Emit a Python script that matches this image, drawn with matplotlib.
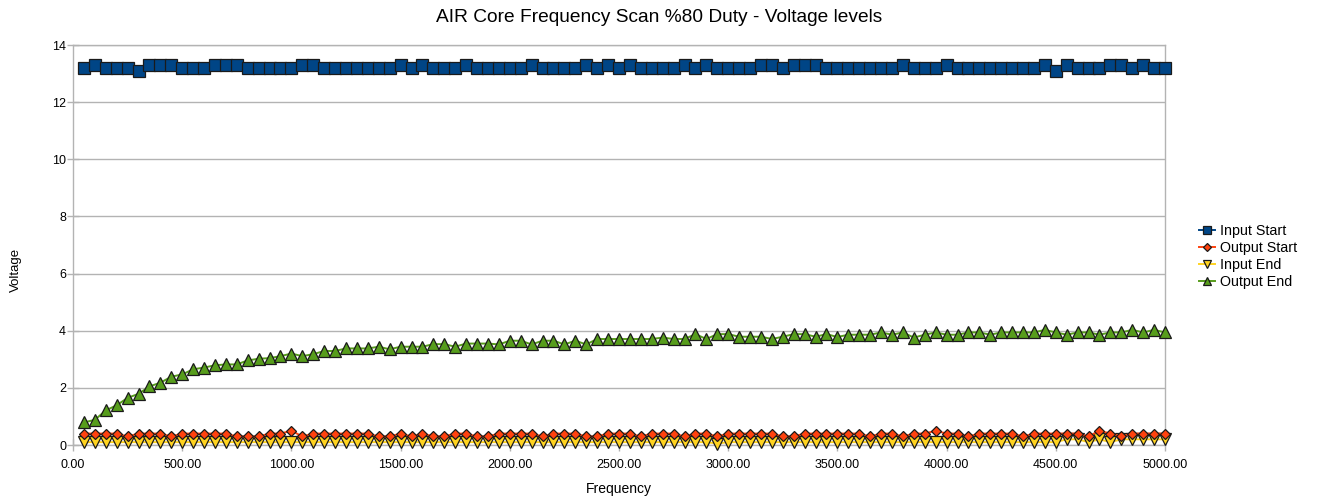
import matplotlib
matplotlib.use("Agg")
import matplotlib.pyplot as plt
from matplotlib.ticker import MultipleLocator, FuncFormatter

plt.rcParams['font.family'] = ['Liberation Sans', 'DejaVu Sans']

frequency = list(range(50, 5001, 50))

input_start = [
    13.2, 13.3, 13.2, 13.2, 13.2, 13.1, 13.3, 13.3, 13.3, 13.2,
    13.2, 13.2, 13.3, 13.3, 13.3, 13.2, 13.2, 13.2, 13.2, 13.2,
    13.3, 13.3, 13.2, 13.2, 13.2, 13.2, 13.2, 13.2, 13.2, 13.3,
    13.2, 13.3, 13.2, 13.2, 13.2, 13.3, 13.2, 13.2, 13.2, 13.2,
    13.2, 13.3, 13.2, 13.2, 13.2, 13.2, 13.3, 13.2, 13.3, 13.2,
    13.3, 13.2, 13.2, 13.2, 13.2, 13.3, 13.2, 13.3, 13.2, 13.2,
    13.2, 13.2, 13.3, 13.3, 13.2, 13.3, 13.3, 13.3, 13.2, 13.2,
    13.2, 13.2, 13.2, 13.2, 13.2, 13.3, 13.2, 13.2, 13.2, 13.3,
    13.2, 13.2, 13.2, 13.2, 13.2, 13.2, 13.2, 13.2, 13.3, 13.1,
    13.3, 13.2, 13.2, 13.2, 13.3, 13.3, 13.2, 13.3, 13.2, 13.2,
]

output_start = [
    0.4, 0.4, 0.4, 0.4, 0.3, 0.4, 0.4, 0.4, 0.3, 0.4,
    0.4, 0.4, 0.4, 0.4, 0.3, 0.3, 0.3, 0.4, 0.4, 0.5,
    0.3, 0.4, 0.4, 0.4, 0.4, 0.4, 0.4, 0.3, 0.3, 0.4,
    0.3, 0.4, 0.3, 0.3, 0.4, 0.4, 0.3, 0.3, 0.4, 0.4,
    0.4, 0.4, 0.3, 0.4, 0.4, 0.4, 0.3, 0.3, 0.4, 0.4,
    0.4, 0.3, 0.4, 0.4, 0.4, 0.3, 0.4, 0.4, 0.3, 0.4,
    0.4, 0.4, 0.4, 0.4, 0.3, 0.3, 0.4, 0.4, 0.4, 0.4,
    0.4, 0.4, 0.3, 0.4, 0.4, 0.3, 0.4, 0.4, 0.5, 0.4,
    0.4, 0.3, 0.4, 0.4, 0.4, 0.4, 0.3, 0.4, 0.4, 0.4,
    0.4, 0.4, 0.3, 0.5, 0.4, 0.3, 0.4, 0.4, 0.4, 0.4,
]

input_end = [
    0.1, 0.1, 0.1, 0.1, 0.1, 0.1, 0.1, 0.1, 0.1, 0.1,
    0.1, 0.1, 0.1, 0.1, 0.1, 0.1, 0.1, 0.1, 0.1, 0.1,
    0.1, 0.1, 0.1, 0.1, 0.1, 0.1, 0.1, 0.1, 0.1, 0.1,
    0.1, 0.1, 0.1, 0.1, 0.1, 0.1, 0.1, 0.1, 0.1, 0.1,
    0.1, 0.1, 0.1, 0.1, 0.1, 0.1, 0.1, 0.1, 0.1, 0.1,
    0.1, 0.1, 0.1, 0.1, 0.1, 0.1, 0.1, 0.1, 0.05, 0.1,
    0.1, 0.1, 0.1, 0.1, 0.1, 0.1, 0.1, 0.1, 0.1, 0.1,
    0.1, 0.1, 0.1, 0.1, 0.1, 0.1, 0.1, 0.1, 0.1, 0.1,
    0.1, 0.1, 0.1, 0.1, 0.1, 0.1, 0.1, 0.1, 0.1, 0.1,
    0.2, 0.2, 0.1, 0.2, 0.1, 0.2, 0.2, 0.2, 0.2, 0.2,
]

output_end = [
    0.79, 0.88, 1.21, 1.39, 1.65, 1.79, 2.05, 2.18, 2.39, 2.47,
    2.65, 2.71, 2.79, 2.82, 2.82, 2.96, 3.02, 3.04, 3.11, 3.20,
    3.11, 3.18, 3.29, 3.29, 3.38, 3.38, 3.38, 3.44, 3.35, 3.44,
    3.44, 3.44, 3.53, 3.53, 3.44, 3.55, 3.55, 3.55, 3.52, 3.65,
    3.65, 3.52, 3.65, 3.65, 3.52, 3.65, 3.52, 3.71, 3.71, 3.71,
    3.71, 3.71, 3.71, 3.76, 3.71, 3.71, 3.88, 3.71, 3.88, 3.88,
    3.79, 3.79, 3.79, 3.71, 3.79, 3.88, 3.88, 3.79, 3.88, 3.78,
    3.86, 3.86, 3.86, 3.94, 3.86, 3.94, 3.76, 3.86, 3.94, 3.86,
    3.86, 3.94, 3.94, 3.86, 3.94, 3.94, 3.94, 3.94, 4.03, 3.94,
    3.86, 3.94, 3.94, 3.86, 3.94, 3.94, 4.03, 3.94, 4.03, 3.94,
]

series_names = ["Input Start", "Output Start", "Input End", "Output End"]
series_values = [input_start, output_start, input_end, output_end]
series_colors = ["#004586", "#ff420e", "#ffd320", "#579d1c"]
series_markers = ["s", "D", "v", "^"]
series_msizes = [8, 5.6, 8, 8.5]
series_z = [3, 4, 3, 3]

title = "AIR Core Frequency Scan %80 Duty - Voltage levels"
x_label = "Frequency"
y_label = "Voltage"

W, H = 1318, 504
fig = plt.figure(figsize=(W / 100, H / 100), dpi=100)
ax = fig.add_axes([73 / W, (H - 445) / H, 1092 / W, 400 / H])

handles = []
for name, vals, col, mk, ms, z in zip(series_names, series_values, series_colors,
                                      series_markers, series_msizes, series_z):
    h, = ax.plot(frequency, vals, color=col, lw=1.4, marker=mk, ms=ms,
                 markerfacecolor=col, markeredgecolor="#1a1a1a", markeredgewidth=0.9,
                 label=name, clip_on=False, zorder=z)
    handles.append(h)

ax.set_xlim(0, 5000)
ax.set_ylim(0, 14)
ax.xaxis.set_major_locator(MultipleLocator(500))
ax.yaxis.set_major_locator(MultipleLocator(2))
ax.xaxis.set_major_formatter(FuncFormatter(lambda v, p: f"{v:.2f}"))
ax.yaxis.set_major_formatter(FuncFormatter(lambda v, p: f"{v:.0f}"))

grid_col = "#b3b3b3"
ax.grid(axis="y", color=grid_col, lw=1.0, zorder=0)
ax.set_axisbelow(True)
for s in ax.spines.values():
    s.set_color(grid_col)
    s.set_linewidth(1.0)
ax.tick_params(axis="both", direction="inout", length=8, width=1.0, color=grid_col,
               labelsize=9, labelcolor="#000000")
ax.tick_params(axis="y", pad=1)
ax.tick_params(axis="x", pad=6)

fig.text(0.5, 1 - 17 / H, title, ha="center", va="center", fontsize=13.8)
fig.text(619 / W, 1 - 489 / H, x_label, ha="center", va="center", fontsize=10)
fig.text(16 / W, 1 - 270 / H, y_label, ha="center", va="center", rotation=90, fontsize=9.5)

fig.legend(handles=handles, loc="upper left", bbox_to_anchor=(1199 / W, 1 - 224 / H),
           frameon=False, fontsize=10.3, handlelength=1.1, handletextpad=0.35,
           labelspacing=0.22, markerscale=0.7, borderpad=0, borderaxespad=0)

fig.savefig("out.png", dpi=100)
